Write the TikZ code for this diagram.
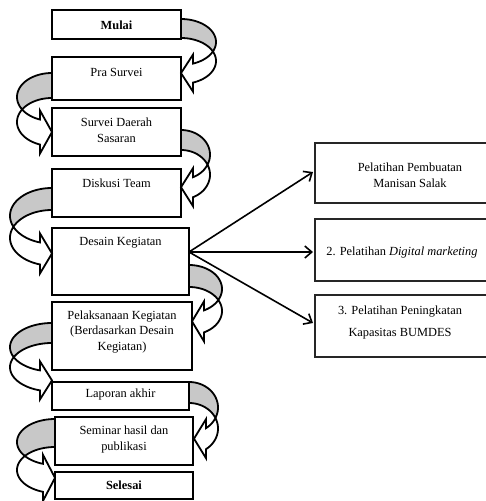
\documentclass[tikz,border=0pt]{standalone}
\usepackage{fontspec}
\setmainfont{Liberation Serif}
\usetikzlibrary{arrows.meta,calc}
\definecolor{bandgray}{HTML}{C8C8C8}
\tikzset{
  stepbox/.style={draw=black, line width=2.6pt, fill=white, anchor=north west, inner sep=0pt, outer sep=0pt},
  sidebox/.style={draw=black!85, line width=1.1pt, fill=white, anchor=north west, inner sep=0pt, outer sep=0pt},
  lbl/.style={font=\fontsize{12.4}{15.5}\selectfont, align=center, inner sep=0pt, anchor=base},
  blbl/.style={lbl, font=\fontsize{12.4}{15.5}\selectfont\bfseries},
  backband/.style={fill=bandgray, draw=black, line width=1.8pt, line join=round},
  frontband/.style={fill=white, draw=black, line width=1.8pt, line join=miter},
  flow/.style={line width=1.6pt, -{Straight Barb[length=7pt,width=12pt]}},
  pics/carrow/.style n args={4}{code={
    \pgfmathsetmacro\crR{#1}
    \pgfmathsetmacro\crB{#2}
    \pgfmathsetmacro\crT{#3}
    \pgfmathsetmacro\crA{#4}
    \pgfmathsetmacro\cti{asin(\crT/(2*\crB))}
    \pgfmathsetmacro\ctb{acos(\crA/\crR)}
    \pgfmathsetmacro\cyb{\crB*sin(\ctb)}
    \filldraw[backband]
      plot[domain=-90:\cti,samples=40] ({\crR*cos(\x)},{\crB+\crB*sin(\x)})
      -- plot[domain=-\cti:-90,samples=40] ({\crR*cos(\x)},{\crB+\crT+\crB*sin(\x)})
      -- cycle;
    \filldraw[frontband]
      plot[domain=-\cti:\ctb,samples=40] ({\crR*cos(\x)},{\crB+\crT+\crB*sin(\x)})
      -- (\crA,\crB+\crT+\cyb+9)
      -- (\crA-12,\crB+\crT/2+\cyb)
      -- (\crA,\crB+\cyb-9)
      -- plot[domain=\ctb:\cti,samples=40] ({\crR*cos(\x)},{\crB+\crB*sin(\x)})
      -- cycle;
  }}
}
\begin{document}
\begin{tikzpicture}[x=1pt,y=-1pt]
\useasboundingbox (0,0) rectangle (486,501);
\clip (0,0) rectangle (486,501);
% boxes
\node[stepbox, minimum width=129pt, minimum height=29pt] (mulai) at (52,10) {};
\node[stepbox, minimum width=129pt, minimum height=43pt] (pra) at (52,57) {};
\node[stepbox, minimum width=129pt, minimum height=48pt] (survei) at (52,108) {};
\node[stepbox, minimum width=129pt, minimum height=48pt] (diskusi) at (52,169) {};
\node[stepbox, minimum width=137pt, minimum height=67pt] (desain) at (52,228) {};
\node[stepbox, minimum width=140pt, minimum height=68pt] (pelak) at (52,302) {};
\node[stepbox, minimum width=137pt, minimum height=28pt] (lapor) at (52,382) {};
\node[stepbox, minimum width=138pt, minimum height=48pt] (seminar) at (55,417) {};
\node[stepbox, minimum width=138pt, minimum height=27pt] (selesai) at (55,472) {};
\node[sidebox, minimum width=190pt, minimum height=60pt] (b1) at (315,143) {};
\node[sidebox, minimum width=190pt, minimum height=62pt] (b2) at (315,219) {};
\node[sidebox, minimum width=190pt, minimum height=62pt] (b3) at (315,295) {};
% curved arrows
\pic at ($(mulai.north east)+(0,9)$) {carrow={35}{23}{19}{12}};
\pic[xscale=-1] at ($(pra.north west)+(0,16)$) {carrow={35}{24}{25}{12}};
\pic at ($(survei.north east)+(0,22)$) {carrow={29}{24.7}{20}{12}};
\pic[xscale=-1] at ($(diskusi.north west)+(0,19)$) {carrow={42}{27.8}{22}{12}};
\pic at ($(desain.north east)+(0,37)$) {carrow={33}{24}{22}{15}};
\pic[xscale=-1] at ($(pelak.north west)+(0,21)$) {carrow={42}{24.2}{20}{12}};
\pic at ($(lapor.north east)+(0,0)$) {carrow={29}{25.5}{21}{17}};
\pic[xscale=-1] at ($(seminar.north west)+(0,2)$) {carrow={38}{23}{28}{12}};
% labels (base = baseline of last line)
\node[blbl] (mulaiT) at ($(mulai.north)+(0,19)$) {Mulai};
\node[lbl] (praT) at ($(pra.north)+(0,19)$) {Pra Survei};
\node[lbl] (surveiT) at ($(survei.north)+(0,34)$) {Survei Daerah\\Sasaran};
\node[lbl] (diskusiT) at ($(diskusi.north)+(0,18)$) {Diskusi Team};
\node[lbl] (desainT) at ($(desain.north)+(0,17)$) {Desain Kegiatan};
\node[lbl] (pelakT) at ($(pelak.north)+(0,48)$) {Pelaksanaan Kegiatan\\(Berdasarkan Desain\\Kegiatan)};
\node[lbl] (laporT) at ($(lapor.north)+(0,15)$) {Laporan akhir};
\node[lbl, font=\fontsize{12.4}{16}\selectfont] (seminarT) at ($(seminar.north)+(0,33)$) {Seminar hasil dan\\publikasi};
\node[blbl] (selesaiT) at ($(selesai.north)+(0,17)$) {Selesai};
\node[lbl] (b1T) at ($(b1.north west)+(95,44)$) {Pelatihan Pembuatan\\Manisan Salak};
\node[lbl] (b2T) at ($(b2.north west)+(87,36)$) {2. Pelatihan \textit{Digital marketing}};
\node[lbl, font=\fontsize{12.4}{22}\selectfont] (b3T) at ($(b3.north west)+(85,41)$) {3. Pelatihan Peningkatan\\Kapasitas BUMDES};
% straight arrows
\coordinate (dsrc) at ($(desain.east)+(0,-9.5)$);
\draw[flow] (dsrc) -- ($(b1.west)+(-2,-1)$);
\draw[flow] (dsrc) -- ($(b2.west)+(-2,2)$);
\draw[flow] (dsrc) -- ($(b3.west)+(-2,-3)$);
\end{tikzpicture}
\end{document}
